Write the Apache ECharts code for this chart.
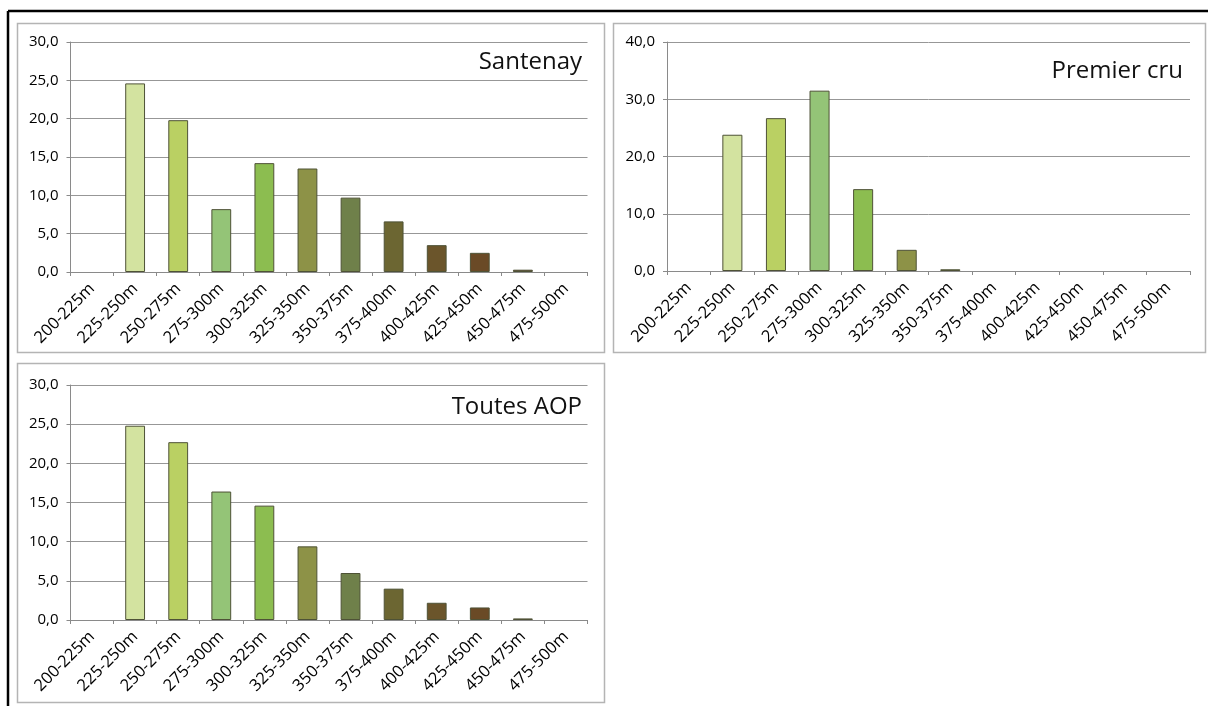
<!DOCTYPE html>
<html>
<head>
<meta charset="utf-8">
<script src="https://cdn.jsdelivr.net/npm/echarts@6/dist/echarts.min.js"></script>
<style>
  html, body { margin: 0; padding: 0; background: #ffffff; }
  #chart { width: 1208px; height: 706px; }
</style>
</head>
<body>
<div id="chart"></div>
<script>
// Altitude classes (metres)
const categories = ['200-225m', '225-250m', '250-275m', '275-300m', '300-325m', '325-350m',
  '350-375m', '375-400m', '400-425m', '425-450m', '450-475m', '475-500m'];

// Share of surface per altitude class (%)
const santenay   = [0, 24.6, 19.8, 8.2, 14.2, 13.5, 9.7, 6.6, 3.5, 2.5, 0.3, 0];
const premierCru = [0, 23.8, 26.7, 31.5, 14.3, 3.7, 0.3, 0, 0, 0, 0, 0];
const toutesAop  = [0, 24.8, 22.7, 16.4, 14.6, 9.4, 6.0, 4.0, 2.2, 1.6, 0.2, 0];

// Panel titles and y-axis ranges
const titles = ['Santenay', 'Premier cru', 'Toutes AOP'];
const yMax = [30, 40, 30];
const yStep = [5, 10, 5];

// One colour per altitude class, light green to brown
const palette = ['#d3e3a0', '#d3e3a0', '#bad063', '#94c477', '#8cbd50', '#8d9247',
  '#6f804a', '#6c6632', '#6b552b', '#6a4a26', '#5c3b21', '#5c3b21'];

const chart = echarts.init(document.getElementById('chart'), null, { renderer: 'canvas' });

const font = '"Open Sans", "Noto Sans", sans-serif';
const grids = [
  { left: 70.5, top: 42, width: 517, height: 230 },
  { left: 667, top: 42, width: 523, height: 229 },
  { left: 70.5, top: 385, width: 517, height: 235 }
];
const seriesData = [santenay, premierCru, toutesAop];

const fmt = v => v.toFixed(1).replace('.', ',');

const xAxis = grids.map((g, i) => ({
  type: 'category',
  gridIndex: i,
  data: categories,
  boundaryGap: true,
  axisLine: { lineStyle: { color: '#8a8a8a', width: 1 } },
  axisTick: { show: true, length: 4, lineStyle: { color: '#8a8a8a' } },
  axisLabel: { rotate: 45, fontSize: 16.5, fontFamily: font, color: '#000', margin: 14, interval: 0 }
}));

const yAxis = grids.map((g, i) => ({
  type: 'value',
  gridIndex: i,
  min: 0,
  max: yMax[i],
  interval: yStep[i],
  axisLine: { show: true, lineStyle: { color: '#8a8a8a', width: 1 } },
  axisTick: { show: true, length: 4, lineStyle: { color: '#8a8a8a' } },
  axisLabel: { fontSize: 15, fontFamily: font, color: '#000', margin: 12, formatter: fmt },
  splitLine: { show: true, lineStyle: { color: '#979797', width: 1 } }
}));

const series = seriesData.map((vals, i) => ({
  type: 'bar',
  xAxisIndex: i,
  yAxisIndex: i,
  barWidth: '46%',
  data: vals.map((v, k) => ({
    value: v,
    itemStyle: { color: palette[k], borderColor: '#4e5236', borderWidth: v > 0 ? 1 : 0 }
  })),
  animation: false
}));

const title = titles.map((t, i) => ({
  text: t,
  right: i === 1 ? 20 : 621,
  top: i === 0 ? 45 : (i === 1 ? 54 : 390),
  textStyle: { fontSize: 24, fontWeight: 'normal', fontFamily: font, color: '#111' }
}));

// Panel frames and the outer page rule
const frames = [
  [17, 23, 587, 329],
  [613, 23, 592, 329],
  [17, 363, 587, 339]
].map(([x, y, w, h]) => ({
  type: 'rect',
  shape: { x: x + 0.5, y: y + 0.5, width: w, height: h },
  style: { fill: null, stroke: '#b4b4b4', lineWidth: 1.5 },
  silent: true
}));

const rules = [
  { type: 'line', shape: { x1: 8, y1: 11, x2: 1208, y2: 11 }, style: { stroke: '#000', lineWidth: 2.5 }, silent: true },
  { type: 'line', shape: { x1: 8, y1: 11, x2: 8, y2: 706 }, style: { stroke: '#000', lineWidth: 2.5 }, silent: true }
];

chart.setOption({
  animation: false,
  backgroundColor: '#ffffff',
  title,
  grid: grids,
  xAxis,
  yAxis,
  series,
  graphic: frames.concat(rules)
});
</script>
</body>
</html>
